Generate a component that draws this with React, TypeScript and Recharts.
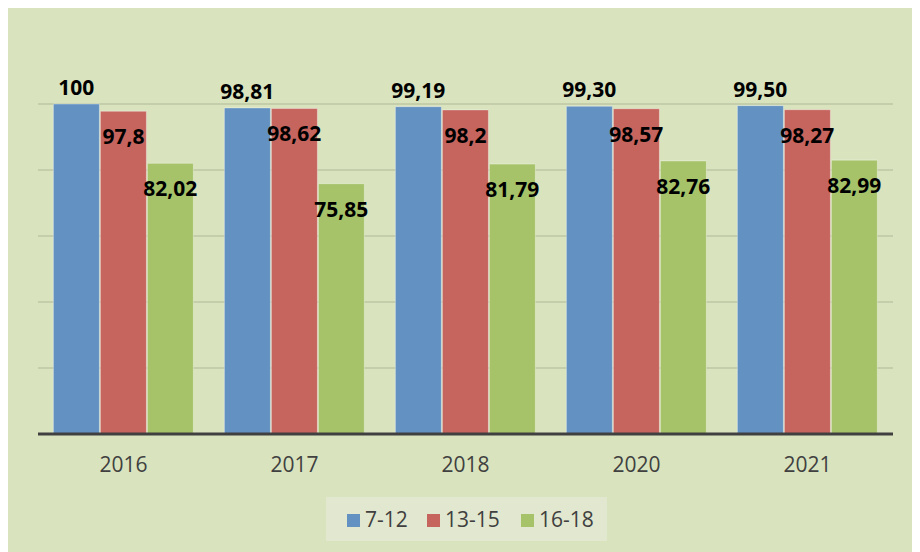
import React from 'react';
import { BarChart, Bar, XAxis, YAxis, CartesianGrid, LabelList, Legend } from 'recharts';

const categories = ['2016', '2017', '2018', '2020', '2021'];
const series1Name = '7-12';
const series2Name = '13-15';
const series3Name = '16-18';
const age7to12 = [100, 98.81, 99.19, 99.3, 99.5];
const age13to15 = [97.8, 98.62, 98.2, 98.57, 98.27];
const age16to18 = [82.02, 75.85, 81.79, 82.76, 82.99];
const labels7to12 = ['100', '98,81', '99,19', '99,30', '99,50'];
const labels13to15 = ['97,8', '98,62', '98,2', '98,57', '98,27'];
const labels16to18 = ['82,02', '75,85', '81,79', '82,76', '82,99'];
const yTicks = [0, 20, 40, 60, 80, 100];

const data = categories.map((c, i) => ({
  year: c,
  a: age7to12[i],
  b: age13to15[i],
  c: age16to18[i],
  la: labels7to12[i],
  lb: labels13to15[i],
  lc: labels16to18[i],
}));

const BLUE = '#6391c1';
const RED = '#c6645e';
const GREEN = '#a6c36a';
const FONT = '"Open Sans", "Liberation Sans", sans-serif';

const labelStyle = { fontFamily: FONT, fontWeight: 700, fontSize: 21, fill: '#000' };

const Tick = (props: any) => {
  const { x, y, payload } = props;
  return (
    <text x={x} y={y} dy={30} textAnchor="middle" fontFamily={FONT} fontSize={21} fill="#404040">
      {payload.value}
    </text>
  );
};

const LegendBox = () => {
  const items = [
    { name: series1Name, color: BLUE, left: 21 },
    { name: series2Name, color: RED, left: 101 },
    { name: series3Name, color: GREEN, left: 195 },
  ];
  return (
    <div style={{ position: 'relative', width: 281, height: 44, background: '#e1e8cf' }}>
      {items.map((it) => (
        <div
          key={it.name}
          style={{
            position: 'absolute',
            left: it.left,
            top: 0,
            height: 44,
            display: 'flex',
            alignItems: 'center',
            fontFamily: FONT,
            fontSize: 21,
            color: '#404040',
          }}
        >
          <span style={{ display: 'inline-block', width: 13, height: 13, background: it.color, marginRight: 5, marginTop: 3 }} />
          <span>{it.name}</span>
        </div>
      ))}
    </div>
  );
};

export default function App() {
  return (
    <div
      style={{
        position: 'relative',
        left: -1,
        top: -1,
        width: 913,
        height: 545,
        background: '#d9e4bf',
        borderTop: '1px solid #c8c8c8',
        borderLeft: '1px solid #c8c8c8',
        boxSizing: 'border-box',
      }}
    >
      <BarChart
        width={912}
        height={544}
        data={data}
        margin={{ top: 96, right: 27, left: 30, bottom: 0 }}
        barCategoryGap="9%"
        barGap={1}
      >
        <CartesianGrid horizontal vertical={false} stroke="#bcc7a5" strokeWidth={1.5} />
        <YAxis hide domain={[0, 100]} ticks={yTicks} />
        <XAxis
          dataKey="year"
          height={118}
          tickLine={false}
          axisLine={{ stroke: '#404040', strokeWidth: 3 }}
          tick={<Tick />}
          interval={0}
        />
        <Legend
          layout="horizontal"
          verticalAlign="middle"
          content={() => <LegendBox />}
          wrapperStyle={{ left: 318, top: 489, width: 281, height: 44 }}
        />
        <Bar dataKey="a" name={series1Name} fill={BLUE} stroke="rgba(255,255,255,0.35)" isAnimationActive={false}>
          <LabelList dataKey="la" position="top" offset={9} style={labelStyle} />
        </Bar>
        <Bar dataKey="b" name={series2Name} fill={RED} stroke="rgba(255,255,255,0.35)" isAnimationActive={false}>
          <LabelList dataKey="lb" position="insideTop" offset={18} style={labelStyle} />
        </Bar>
        <Bar dataKey="c" name={series3Name} fill={GREEN} stroke="rgba(255,255,255,0.35)" isAnimationActive={false}>
          <LabelList dataKey="lc" position="insideTop" offset={18} style={labelStyle} />
        </Bar>
      </BarChart>
    </div>
  );
}
